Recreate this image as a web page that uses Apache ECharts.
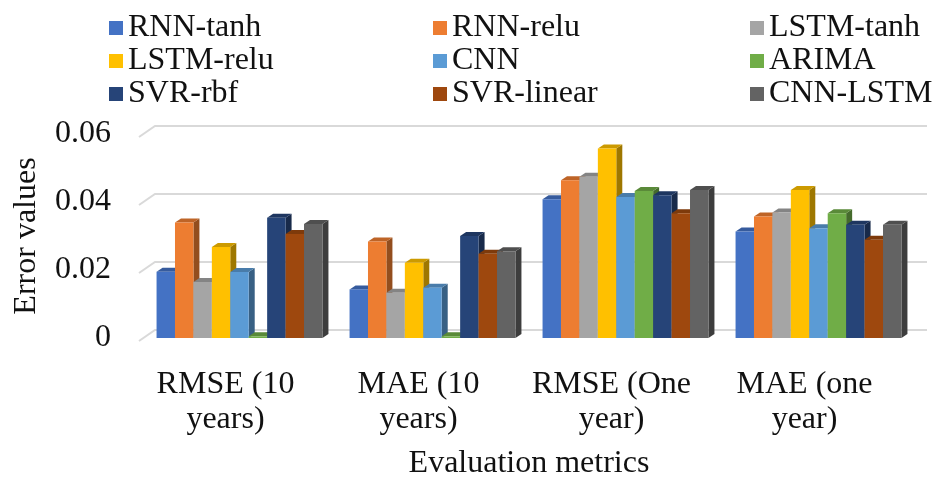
<!DOCTYPE html>
<html>
<head>
<meta charset="utf-8">
<script src="https://cdn.jsdelivr.net/npm/echarts@6/dist/echarts.min.js"></script>
<style>html,body{margin:0;padding:0;background:#fff;}#c{width:936px;height:481px;}</style>
</head>
<body>
<div id="c"></div>
<script>
var categories = ['RMSE (10\nyears)', 'MAE (10\nyears)', 'RMSE (One\nyear)', 'MAE (one\nyear)'];
var models = ['RNN-tanh', 'RNN-relu', 'LSTM-tanh', 'LSTM-relu', 'CNN', 'ARIMA', 'SVR-rbf', 'SVR-linear', 'CNN-LSTM'];
var rnnTanh   = [0.0195, 0.0143, 0.0408, 0.0313];
var rnnRelu   = [0.0340, 0.0284, 0.0464, 0.0357];
var lstmTanh  = [0.0165, 0.0133, 0.0474, 0.0369];
var lstmRelu  = [0.0268, 0.0221, 0.0557, 0.0435];
var cnn       = [0.0194, 0.0148, 0.0415, 0.0323];
var arima     = [0.0005, 0.0005, 0.0432, 0.0367];
var svrRbf    = [0.0354, 0.0300, 0.0420, 0.0333];
var svrLinear = [0.0306, 0.0248, 0.0367, 0.0289];
var cnnLstm   = [0.0335, 0.0255, 0.0435, 0.0333];
var yTicks = [0, 0.02, 0.04, 0.06];

var seriesValues = [rnnTanh, rnnRelu, lstmTanh, lstmRelu, cnn, arima, svrRbf, svrLinear, cnnLstm];
var colors = ['#4472C4', '#ED7D31', '#A5A5A5', '#FFC000', '#5B9BD5', '#70AD47', '#264478', '#9E480E', '#636363'];

var FONT = "'Liberation Serif', 'Times New Roman', serif";
var DX = 12, DY = -8;      // back wall offset
var BDX = 6, BDY = -4;     // bar depth offset
var BAR_FRAC = 0.0955;

function shade(hex, f) {
  var n = parseInt(hex.slice(1), 16);
  var r = Math.round(((n >> 16) & 255) * f), g = Math.round(((n >> 8) & 255) * f), b = Math.round((n & 255) * f);
  return 'rgb(' + r + ',' + g + ',' + b + ')';
}

var series = [];
// back wall gridlines
series.push({
  type: 'custom',
  silent: true,
  z: 1,
  data: yTicks.map(function (v) { return [0, v]; }),
  renderItem: function (params, api) {
    var cs = params.coordSys;
    var y = api.coord([0, api.value(1)])[1];
    return {
      type: 'polyline',
      shape: { points: [[cs.x - 4, y + 3], [cs.x + DX, y + DY], [cs.x + cs.width + DX, y + DY]] },
      style: { stroke: '#d9d9d9', lineWidth: 2, fill: null }
    };
  }
});

models.forEach(function (name, i) {
  var col = colors[i];
  series.push({
    type: 'custom',
    name: name,
    z: 2,
    itemStyle: { color: col },
    data: seriesValues[i].map(function (v, k) { return [k, v]; }),
    renderItem: function (params, api) {
      var base = api.coord([api.value(0), 0]);
      var top = api.coord([api.value(0), api.value(1)]);
      var cw = api.size([1, 0])[0];
      var bw = cw * BAR_FRAC;
      var x0 = base[0] + (i - 4.5) * bw;
      var yt = top[1], yb = base[1];
      return {
        type: 'group',
        children: [
          { type: 'polygon', shape: { points: [[x0 + bw, yt], [x0 + bw + BDX, yt + BDY], [x0 + bw + BDX, yb + BDY], [x0 + bw, yb]] },
            style: { fill: shade(col, 0.62) } },
          { type: 'polygon', shape: { points: [[x0, yt], [x0 + bw, yt], [x0 + bw + BDX, yt + BDY], [x0 + BDX, yt + BDY]] },
            style: { fill: shade(col, 0.8) } },
          { type: 'rect', shape: { x: x0, y: yt, width: bw, height: yb - yt },
            style: { fill: col } }
        ]
      };
    }
  });
});

function legendCol(names, left) {
  return {
    orient: 'vertical', left: left, top: 7,
    data: names, icon: 'rect', itemWidth: 14, itemHeight: 14, itemGap: 1,
    selectedMode: false,
    textStyle: { fontFamily: FONT, fontSize: 32, color: '#111', lineHeight: 32 }
  };
}

var option = {
  animation: false,
  backgroundColor: '#fff',
  legend: [
    legendCol(['RNN-tanh', 'LSTM-relu', 'SVR-rbf'], 104),
    legendCol(['RNN-relu', 'CNN', 'SVR-linear'], 428),
    legendCol(['LSTM-tanh', 'ARIMA', 'CNN-LSTM'], 745)
  ],
  grid: { left: 143, right: 21, top: 134, bottom: 142 },
  xAxis: {
    type: 'category', data: categories,
    axisLine: { show: false }, axisTick: { show: false },
    axisLabel: { fontFamily: FONT, fontSize: 32, color: '#111', lineHeight: 35, margin: 29, padding: [0, 28, 0, 0], interval: 0 },
    name: 'Evaluation metrics', nameLocation: 'middle', nameGap: 110,
    nameTextStyle: { fontFamily: FONT, fontSize: 32, color: '#111' }
  },
  yAxis: {
    type: 'value', min: 0, max: 0.06, interval: 0.02,
    axisLine: { show: false }, axisTick: { show: false }, splitLine: { show: false },
    axisLabel: { fontFamily: FONT, fontSize: 32, color: '#111', margin: 32 },
    name: 'Error values', nameLocation: 'middle', nameGap: 100, nameRotate: 90,
    nameTextStyle: { fontFamily: FONT, fontSize: 32, color: '#111' }
  },
  series: series
};

var chart = echarts.init(document.getElementById('c'), null, { renderer: 'canvas' });
chart.setOption(option);
</script>
</body>
</html>
